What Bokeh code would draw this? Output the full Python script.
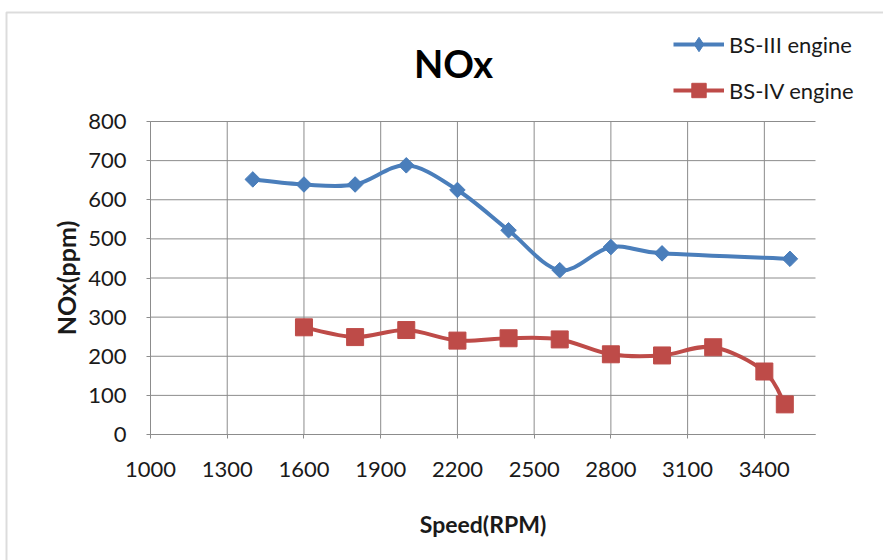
import numpy as np
from bokeh.plotting import figure
from bokeh.models import (ColumnDataSource, Legend, LegendItem, Label, BoxAnnotation,
                          FixedTicker, LinearAxis)
from bokeh.embed import file_html
from bokeh.resources import INLINE

# ---- data ----
speed_bs3 = [1400, 1600, 1800, 2000, 2200, 2400, 2600, 2800, 3000, 3500]
nox_bs3 = [652, 639, 639, 688, 625, 522, 420, 479, 463, 449]
speed_bs4 = [1600, 1800, 2000, 2200, 2400, 2600, 2800, 3000, 3200, 3400, 3480]
nox_bs4 = [274, 249, 267, 240, 246, 243, 205, 202, 223, 161, 77]
x_ticks = [1000, 1300, 1600, 1900, 2200, 2500, 2800, 3100, 3400]
y_ticks = [0, 100, 200, 300, 400, 500, 600, 700, 800]
x_min, x_max = 1000, 3600
y_min, y_max = 0, 800
series_names = ["BS-III engine", "BS-IV engine"]
title_text = "NOx"
x_label = "Speed(RPM)"
y_label = "NOx(ppm)"

BLUE = "#4A7EBB"
RED = "#BE4B48"
GRID = "#8C8C8C"
FONT = "Lato"
W, H = 883, 560
# plot area in pixels
PL, PR, PT, PB = 150, 815, 121, 434

kx = (PR - PL) / (x_max - x_min)
ky = (PB - PT) / (y_max - y_min)
xr = (x_min - PL / kx, x_max + (W - PR) / kx)
yr = (y_min - (H - PB) / ky, y_max + PT / ky)


def smooth_segments(xs, ys, t=1/6):
    n = len(xs)
    d = dict(x0=[], y0=[], x1=[], y1=[], cx0=[], cy0=[], cx1=[], cy1=[])
    for i in range(n - 1):
        a = i - 1 if i > 0 else i
        b = i + 2 if i + 2 < n else i + 1
        d["x0"].append(xs[i]); d["y0"].append(ys[i])
        d["x1"].append(xs[i + 1]); d["y1"].append(ys[i + 1])
        d["cx0"].append(xs[i] + (xs[i + 1] - xs[a]) * t)
        d["cy0"].append(ys[i] + (ys[i + 1] - ys[a]) * t)
        d["cx1"].append(xs[i + 1] - (xs[b] - xs[i]) * t)
        d["cy1"].append(ys[i + 1] - (ys[b] - ys[i]) * t)
    return ColumnDataSource(d)


p = figure(width=W, height=H, x_range=xr, y_range=yr,
           output_backend="svg", toolbar_location=None,
           x_axis_location=None, y_axis_location=None,
           min_border=0)
p.outline_line_color = None
p.background_fill_color = "white"
p.border_fill_color = "white"
p.xgrid.visible = False
p.ygrid.visible = False

# chart border
p.add_layout(BoxAnnotation(left=6, right=W + 20, top=H - 12, bottom=-20,
                           left_units="screen", right_units="screen",
                           top_units="screen", bottom_units="screen",
                           fill_color=None, line_color="#8C8C8C", line_width=2))

# grid lines from tick lists
p.segment(x0=x_ticks, x1=x_ticks, y0=[y_min] * len(x_ticks), y1=[y_max] * len(x_ticks),
          line_color=GRID, line_width=1)
p.segment(x0=[x_min] * len(y_ticks), x1=[x_max] * len(y_ticks), y0=y_ticks, y1=y_ticks,
          line_color=GRID, line_width=1)

xaxis = LinearAxis(fixed_location=y_min, bounds=(x_min, x_max),
                   ticker=FixedTicker(ticks=x_ticks), axis_label=x_label)
yaxis = LinearAxis(fixed_location=x_min, bounds=(y_min, y_max),
                   ticker=FixedTicker(ticks=y_ticks), axis_label=y_label)
for ax in (xaxis, yaxis):
    ax.axis_line_color = GRID
    ax.major_tick_line_color = GRID
    ax.major_tick_in = 0
    ax.major_tick_out = 4
    ax.minor_tick_line_color = None
    ax.major_label_text_font = FONT
    ax.major_label_text_font_size = "22px"
    ax.major_label_text_color = "#1a1a1a"
    ax.axis_label_text_font = FONT
    ax.axis_label_text_font_style = "bold"
    ax.axis_label_text_font_size = "23px"
    ax.axis_label_text_color = "#1a1a1a"
yaxis.axis_label_text_font_size = "25px"
xaxis.major_label_standoff = 23
yaxis.major_label_standoff = 20
xaxis.axis_label_standoff = 30
yaxis.axis_label_standoff = 4
p.add_layout(xaxis, "below")
p.add_layout(yaxis, "left")

src3 = smooth_segments(speed_bs3, nox_bs3)
src4 = smooth_segments(speed_bs4, nox_bs4)

b3 = p.bezier(x0="x0", y0="y0", x1="x1", y1="y1", cx0="cx0", cy0="cy0",
              cx1="cx1", cy1="cy1", source=src3, line_color=BLUE, line_width=4)
# narrow diamond (used for the legend key), fully covered by the rotated square
d3 = p.scatter(speed_bs3, nox_bs3, marker="diamond", size=14,
               fill_color=BLUE, line_color=BLUE)
m3 = p.scatter(speed_bs3, nox_bs3, marker="square", angle=np.pi / 4, size=11,
               fill_color=BLUE, line_color=BLUE)
b4 = p.bezier(x0="x0", y0="y0", x1="x1", y1="y1", cx0="cx0", cy0="cy0",
              cx1="cx1", cy1="cy1", source=src4, line_color=RED, line_width=4)
m4 = p.scatter(speed_bs4, nox_bs4, marker="square", size=17,
               fill_color=RED, line_color=RED)

legend = Legend(items=[LegendItem(label=series_names[0], renderers=[b3, d3]),
                       LegendItem(label=series_names[1], renderers=[b4, m4])],
                location=(673, H - 108), orientation="vertical",
                glyph_width=51, glyph_height=36, label_height=22, spacing=10,
                label_standoff=5, padding=0, margin=0,
                border_line_color=None, background_fill_alpha=0,
                label_text_font=FONT, label_text_font_size="22px",
                label_text_color="#1a1a1a")
p.add_layout(legend, "center")

p.add_layout(Label(x=453, y=H - 62, x_units="screen", y_units="screen",
                   text=title_text, text_align="center", text_baseline="middle",
                   text_font=FONT, text_font_style="bold", text_font_size="38px",
                   text_color="black"))

open("out.html", "w").write(file_html(p, INLINE))
